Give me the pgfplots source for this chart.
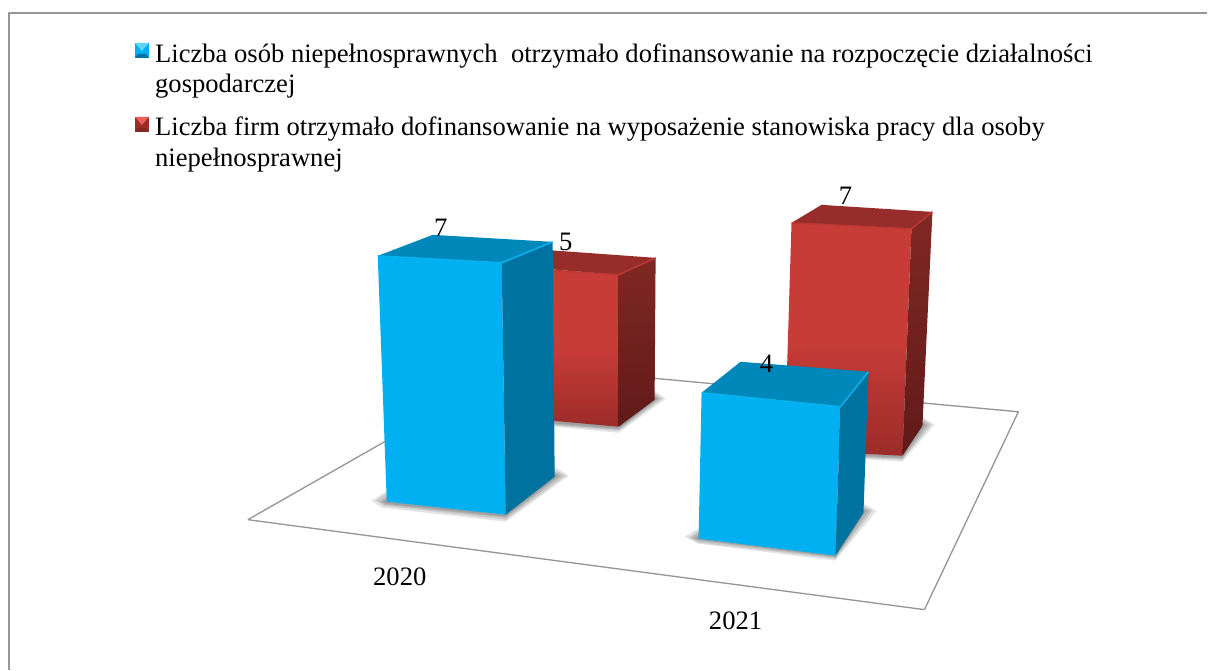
\documentclass[border=0pt]{standalone}
\usepackage{pgfplots}
\pgfplotsset{compat=1.18}
\usepackage{fontspec}
\setmainfont{Liberation Serif}
\definecolor{bf}{RGB}{0,176,240}
\definecolor{bt}{RGB}{0,136,186}
\definecolor{bs}{RGB}{0,114,160}
\definecolor{bl}{RGB}{10,178,240}
\definecolor{bk}{RGB}{90,215,250}
\definecolor{rf}{RGB}{200,60,55}
\definecolor{rfd}{RGB}{155,44,41}
\definecolor{rt}{RGB}{150,45,42}
\definecolor{rs}{RGB}{128,40,36}
\definecolor{rsd}{RGB}{96,26,25}
\definecolor{rl}{RGB}{188,56,52}
\definecolor{rk}{RGB}{238,95,90}
\definecolor{fl}{RGB}{150,150,150}
\pgfplotsset{
  poly/.style={draw=none, forget plot, mark=none},
  shad/.style={poly, fill=black, fill opacity=0.11},
  edge/.style={forget plot, mark=none, line width=1.1pt},
}
\tikzset{
  tx/.style={font=\fontsize{19.95pt}{24pt}\selectfont, inner sep=0pt, anchor=base west},
}
\begin{document}
\begin{tikzpicture}
\begin{axis}[
  scale only axis, width=906pt, height=502.5pt,
  xmin=0, xmax=1208, ymin=0, ymax=670, y dir=reverse,
  hide axis, clip=false,
  every axis plot/.append style={line join=round},
]
% frame: the image is cropped, so only the top and left rules show
\addplot[draw=none, forget plot] coordinates {(0,0)(1208,670)};
\addplot[draw=fl, line width=1.1pt, forget plot] coordinates {(9,670)(9,13)(1208,13)};
% floor
\addplot[draw=fl, line width=1pt, forget plot] coordinates {(248,520)(518,366)(1019,412)(925,610)(248,520)};
% shadows red 2020
\addplot[shad] coordinates {(545,426)(619,433)(666,399)(655,391)(545,410)};
\addplot[shad] coordinates {(545,425)(619,431)(663,399)(655,393)(545,410)};
\addplot[shad] coordinates {(545,424)(619,430)(660,399)(655,395)(545,410)};
\addplot[shad] coordinates {(545,423)(619,429)(658,399)(655,397)(545,410)};
% red 2020 front/top/side
\addplot[poly, top color=rf, bottom color=rfd, middle color=rf] coordinates {(553,270)(619,275)(619,427)(553,421)};
\addplot[poly, fill=rt] coordinates {(545,250)(656,258)(619,275)(545,269)};
\addplot[poly, top color=rs, bottom color=rsd] coordinates {(619,275)(656,258)(655,400)(619,427)};
\addplot[edge, draw=rl] coordinates {(545,270)(619,275)(656,258)};
% shadows red 2021
\addplot[shad] coordinates {(860,459)(903,462)(935,425)(923,417)(860,440)};
\addplot[shad] coordinates {(860,458)(903,460)(932,425)(923,419)(860,440)};
\addplot[shad] coordinates {(860,457)(903,459)(929,425)(923,421)(860,440)};
\addplot[shad] coordinates {(860,456)(903,458)(926,425)(923,423)(860,440)};
% red 2021
\addplot[poly, top color=rf, bottom color=rfd, middle color=rf] coordinates {(792,223)(912,229)(903,456)(785,450)};
\addplot[poly, fill=rt] coordinates {(792,223)(822,205)(933,212)(912,229)};
\addplot[poly, top color=rs, bottom color=rsd] coordinates {(912,229)(933,212)(923,426)(903,456)};
\addplot[edge, draw=rl] coordinates {(792,223)(912,229)(933,212)};
% shadows blue 2020
\addplot[shad] coordinates {(372,501)(382,508)(506,522)(569,476)(555,467)(420,470)};
\addplot[shad] coordinates {(376,501)(384,506)(506,520)(566,476)(555,470)(420,470)};
\addplot[shad] coordinates {(380,502)(385,505)(506,518)(562,476)(555,472)(420,470)};
\addplot[shad] coordinates {(383,502)(386,504)(506,517)(559,476)(555,474)(420,470)};
% blue 2020
\addplot[poly, fill=bf] coordinates {(378,256)(502,263)(506,515)(387,502)};
\addplot[poly, fill=bt] coordinates {(378,256)(433,235)(553,242)(502,263)};
\addplot[poly, fill=bs] coordinates {(502,263)(553,242)(555,477)(506,515)};
\addplot[edge, draw=bl] coordinates {(378,256)(502,263)(553,242)};
% shadows blue 2021
\addplot[shad] coordinates {(685,537)(699,544)(836,561)(877,511)(864,504)(730,510)};
\addplot[shad] coordinates {(689,538)(699,543)(836,559)(873,511)(864,506)(730,510)};
\addplot[shad] coordinates {(692,538)(699,541)(836,558)(870,511)(864,508)(730,510)};
\addplot[shad] coordinates {(695,539)(699,540)(836,557)(867,511)(864,510)(730,510)};
% blue 2021
\addplot[poly, fill=bf] coordinates {(702,393)(841,407)(836,556)(699,539)};
\addplot[poly, fill=bt] coordinates {(702,393)(741,362)(869,372)(841,407)};
\addplot[poly, fill=bs] coordinates {(841,407)(869,372)(864,513)(836,556)};
\addplot[edge, draw=bl] coordinates {(702,393)(841,407)(869,372)};
% legend keys
\addplot[poly, fill=bf] coordinates {(135,43)(149,43)(149,58)(135,58)};
\addplot[poly, fill=bk] coordinates {(135,43)(149,43)(142,51)};
\addplot[poly, fill=bs] coordinates {(135,58)(149,58)(146,54)(138,54)};
\addplot[poly, fill=rfd] coordinates {(135,117)(149,117)(149,132)(135,132)};
\addplot[poly, fill=rk] coordinates {(135,117)(149,117)(142,125)};
\addplot[poly, fill=rs] coordinates {(135,132)(149,132)(146,128)(138,128)};
% texts
\node[tx] at (axis cs:155,63) {Liczba osób niepełnosprawnych\ \ otrzymało dofinansowanie na rozpoczęcie działalności};
\node[tx] at (axis cs:155,93) {gospodarczej};
\node[tx] at (axis cs:155,136) {Liczba firm otrzymało dofinansowanie na wyposażenie stanowiska pracy dla osoby};
\node[tx] at (axis cs:155,167) {niepełnosprawnej};
\node[tx, anchor=base] at (axis cs:441,237) {7};
\node[tx, anchor=base] at (axis cs:566,251) {5};
\node[tx, anchor=base] at (axis cs:846,205) {7};
\node[tx, anchor=base] at (axis cs:767,373) {4};
\node[tx, anchor=base] at (axis cs:400,586) {2020};
\node[tx, anchor=base] at (axis cs:736,630) {2021};
\end{axis}
\end{tikzpicture}
\end{document}
